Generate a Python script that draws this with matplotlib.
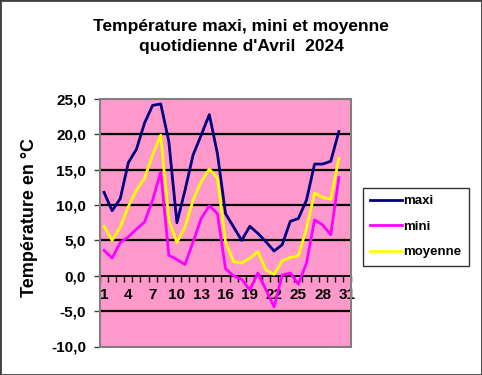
import numpy as np
import matplotlib.pyplot as plt
from matplotlib.patches import Rectangle

# Données d'avril 2024
jours = list(range(1, 31))
maxi = [11.8, 9.2, 10.9, 16.0, 17.9, 21.6, 24.1, 24.3, 19.0, 7.5,
        12.1, 17.1, 19.9, 22.8, 17.3, 8.8, 6.9, 5.0, 7.0, 6.0,
        4.8, 3.5, 4.4, 7.7, 8.1, 10.7, 15.8, 15.8, 16.2, 20.4]
mini = [3.6, 2.5, 4.7, 5.5, 6.6, 7.6, 10.7, 14.7, 2.9, 2.3,
        1.6, 4.8, 8.1, 9.9, 8.8, 1.0, 0.0, -0.5, -2.0, 0.4,
        -2.0, -4.4, 0.1, 0.4, -1.2, 1.8, 7.9, 7.2, 5.8, 13.9]
moyenne = [7.0, 5.0, 6.9, 9.8, 12.1, 13.8, 17.1, 19.9, 7.9, 4.7,
           6.9, 10.7, 13.3, 15.1, 13.8, 4.8, 2.0, 1.8, 2.5, 3.4,
           0.8, 0.2, 2.1, 2.6, 2.8, 6.7, 11.7, 11.1, 10.8, 16.6]
etiquettes_x = list(range(1, 32, 3))
graduations_y = list(range(-10, 30, 5))

plt.rcParams['font.family'] = ['Liberation Sans', 'DejaVu Sans']
plt.rcParams['font.weight'] = 'bold'

fig = plt.figure(figsize=(4.82, 3.75), dpi=100)
ax = fig.add_axes([100 / 482, 1 - 346.5 / 375, 251 / 482, 247.5 / 375])
ax.set_facecolor('#FF99CC')

ax.plot(jours, maxi, color='#000080', lw=2, label='maxi', zorder=3)
ax.plot(jours, mini, color='#FF00FF', lw=2, label='mini', zorder=3)
ax.plot(jours, moyenne, color='#FFFF00', lw=2, label='moyenne', zorder=3)

ax.set_xlim(0.5, 31.5)
ax.set_ylim(-10, 25)
ax.set_yticks(graduations_y)
ax.set_yticklabels([f'{v:.1f}'.replace('.', ',') for v in graduations_y])
ax.set_xticks(etiquettes_x)
ax.set_xticks(np.arange(0.5, 32, 1), minor=True)
ax.tick_params(axis='x', which='major', length=0, pad=9, labelsize=11)
ax.tick_params(axis='x', which='minor', length=4, width=1, direction='out', color='black')
ax.tick_params(axis='y', length=4, width=1, color='#404040', pad=6, labelsize=11)

for y in graduations_y[1:-1]:
    if y != 0:
        ax.axhline(y, color='black', lw=1.6, zorder=1)

for s in ['top', 'left', 'right']:
    ax.spines[s].set_visible(False)
ax.spines['bottom'].set_position(('data', 0))
ax.spines['bottom'].set_color('black')
ax.spines['bottom'].set_linewidth(1.3)
ax.add_patch(Rectangle((0, 0), 1, 1, transform=ax.transAxes, fill=False,
                       edgecolor='#808080', lw=1.5, zorder=4, clip_on=False))

ax.set_ylabel('Température en °C', fontsize=13, fontweight='bold')
ax.yaxis.set_label_coords(-62 / 251, 0.52)
fig.text(0.5, 1 - 36.5 / 375, "Température maxi, mini et moyenne\nquotidienne d'Avril  2024",
         ha='center', va='center', fontsize=12.5, linespacing=1.35)

leg = fig.legend(loc='upper left', bbox_to_anchor=(363 / 482, 1 - 188 / 375),
                 frameon=True, fancybox=False, edgecolor='black', fontsize=9.5,
                 handlelength=2.4, labelspacing=1.0, borderpad=0.55, handletextpad=0.1,
                 borderaxespad=0)
leg.get_frame().set_linewidth(1)

fig.add_artist(Rectangle((0, 0), 1, 1, transform=fig.transFigure, fill=False,
                         edgecolor='#404040', lw=2))

fig.savefig('out.png', dpi=100)
